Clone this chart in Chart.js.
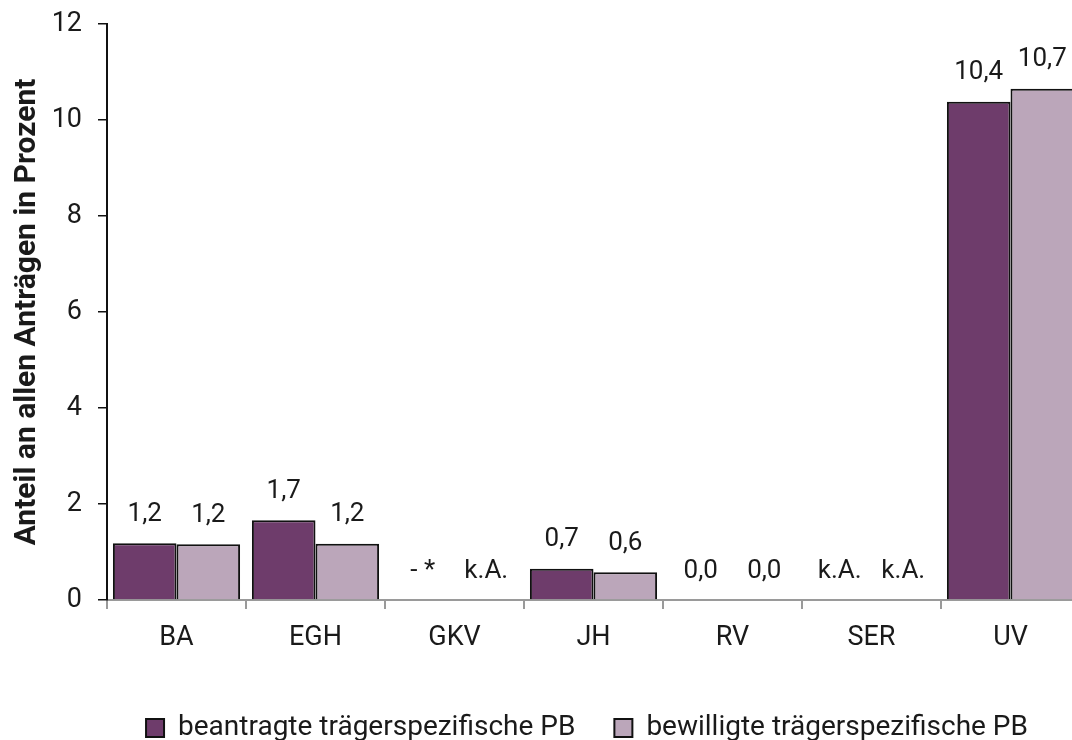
<!DOCTYPE html>
<html>
<head>
  <meta charset="UTF-8">
  <title>Anteil an allen Anträgen</title>
  <script src="https://cdn.jsdelivr.net/npm/chart.js"></script>
  <style>
    html, body {
      margin: 0;
      padding: 0;
      background: #fff;
      overflow: hidden;
    }
    #wrap {
      width: 1072px;
      height: 740px;
      overflow: hidden;
    }
  </style>
</head>
<body>
  <div id="wrap">
    <canvas id="chart" width="1082" height="752"></canvas>
  </div>

  <script>
    const categories = ['BA', 'EGH', 'GKV', 'JH', 'RV', 'SER', 'UV'];
    const seriesNames = ['beantragte trägerspezifische PB', 'bewilligte trägerspezifische PB'];
    const beantragt = [1.18, 1.66, 0, 0.65, 0, null, 10.38];
    const bewilligt = [1.16, 1.17, null, 0.58, 0, null, 10.65];
    const beantragtLabels = ['1,2', '1,7', '- *', '0,7', '0,0', 'k.A.', '10,4'];
    const bewilligtLabels = ['1,2', '1,2', 'k.A.', '0,6', '0,0', 'k.A.', '10,7'];
    const yTicks = [0, 2, 4, 6, 8, 10, 12];

    const textColor = '#1a1a1a';
    const fontFamily = 'Roboto, "Noto Sans", sans-serif';

    // labels over each bar, read from the label arrays
    const barLabels = {
      id: 'barLabels',
      afterLayout(chart) {
        // legend sits a bit right of the canvas centre in the original
        chart.legend.left += 47;
        chart.legend.right += 47;
      },
      afterDatasetsDraw(chart) {
        const ctx = chart.ctx;
        const yScale = chart.scales.y;
        const texts = [beantragtLabels, bewilligtLabels];
        ctx.save();
        ctx.font = '26px ' + fontFamily;
        ctx.fillStyle = textColor;
        ctx.textAlign = 'center';
        ctx.textBaseline = 'middle';
        chart.data.datasets.forEach((ds, di) => {
          const meta = chart.getDatasetMeta(di);
          meta.data.forEach((bar, i) => {
            const v = ds.data[i] == null ? 0 : ds.data[i];
            const y = yScale.getPixelForValue(v) - 29;
            ctx.fillText(texts[di][i], bar.x, y);
          });
        });
        ctx.restore();
      }
    };

    new Chart(document.getElementById('chart'), {
      type: 'bar',
      data: {
        labels: categories,
        datasets: [
          {
            label: seriesNames[0],
            data: beantragt,
            backgroundColor: '#6e3c6b',
            borderColor: '#111',
            borderWidth: 2
          },
          {
            label: seriesNames[1],
            data: bewilligt,
            backgroundColor: '#bba6ba',
            borderColor: '#111',
            borderWidth: 2
          }
        ]
      },
      options: {
        responsive: false,
        animation: false,
        categoryPercentage: 0.915,
        barPercentage: 1,
        layout: {
          padding: { top: 24, left: 0, right: 2, bottom: 0 }
        },
        plugins: {
          tooltip: { enabled: false },
          legend: {
            position: 'bottom',
            labels: {
              color: textColor,
              font: { family: fontFamily, size: 28 },
              boxWidth: 18,
              boxHeight: 18,
              padding: 39,
              useBorderRadius: false
            }
          }
        },
        scales: {
          x: {
            afterFit: (scale) => { scale.height = 75; },
            border: { color: '#9a9a9a', width: 2 },
            grid: {
              display: true,
              drawOnChartArea: false,
              offset: true,
              color: '#9a9a9a',
              tickLength: 9,
              lineWidth: 2
            },
            ticks: {
              color: textColor,
              font: { family: fontFamily, size: 27 },
              padding: 13
            }
          },
          y: {
            min: 0,
            max: 12,
            afterFit: (scale) => {
              scale.width = 107;
              scale.paddingTop = 0;
              scale.paddingBottom = 0;
            },
            afterBuildTicks: (scale) => {
              scale.ticks = yTicks.map(v => ({ value: v }));
            },
            border: { color: '#111', width: 2 },
            grid: {
              display: true,
              drawOnChartArea: false,
              color: '#111',
              tickLength: 9,
              lineWidth: 1.5
            },
            ticks: {
              color: textColor,
              font: { family: fontFamily, size: 27 },
              padding: 16
            },
            title: {
              display: true,
              text: 'Anteil an allen Anträgen in Prozent',
              color: textColor,
              font: { family: fontFamily, size: 30, weight: 'bold' },
              padding: { top: 9, bottom: 0 }
            }
          }
        }
      },
      plugins: [barLabels]
    });
  </script>
</body>
</html>
